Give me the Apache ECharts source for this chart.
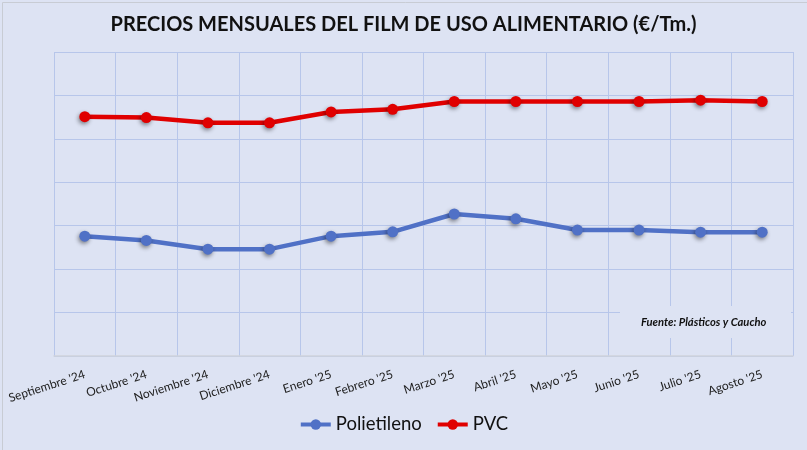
<!DOCTYPE html>
<html style="height: 100%;">
  <head>
    <meta charset="utf-8" />
  </head>
  <body style="height: 100%; margin: 0; background: #dde3f3;">
    <div id="container" style="width: 807px; height: 450px;"></div>
    <script src="https://cdnjs.cloudflare.com/ajax/libs/echarts/6.0.0/echarts.min.js"></script>
    <script type="text/javascript">
      // meses (eje x)
      var months = [
        "Septiembre '24", "Octubre '24", "Noviembre '24", "Diciembre '24",
        "Enero '25", "Febrero '25", "Marzo '25", "Abril '25",
        "Mayo '25", "Junio '25", "Julio '25", "Agosto '25"
      ];
      // precios estimados en €/Tm (eje sin etiquetas)
      var polietileno = [1380, 1330, 1230, 1230, 1380, 1430, 1635, 1580, 1450, 1450, 1425, 1425];
      var pvc = [2755, 2745, 2685, 2685, 2810, 2840, 2930, 2930, 2930, 2930, 2945, 2930];

      var dom = document.getElementById("container");
      var myChart = echarts.init(dom);

      var lineStyle = function (color) {
        return {
          type: "line",
          smooth: false,
          symbol: "circle",
          symbolSize: 11,
          itemStyle: {
            color: color,
            shadowColor: "rgba(0,0,0,0.45)",
            shadowBlur: 4,
            shadowOffsetX: -1,
            shadowOffsetY: 2
          },
          lineStyle: { color: color, width: 4.5 },
          emphasis: { disabled: true }
        };
      };

      var option = {
        backgroundColor: "#dde3f3",
        animation: false,
        textStyle: { fontFamily: "Lato" },
        title: {
          text: "PRECIOS MENSUALES DEL FILM DE USO ALIMENTARIO (€/Tm.)",
          left: "center",
          top: 10,
          textStyle: { fontFamily: "Lato", fontSize: 20, fontWeight: "bold", color: "#111" }
        },
        legend: {
          bottom: 11,
          left: "center",
          itemWidth: 30,
          itemHeight: 13,
          itemGap: 14,
          lineStyle: { width: 4 },
          textStyle: { fontFamily: "Lato", fontSize: 18.5, color: "#111" },
          data: ["Polietileno", "PVC"]
        },
        grid: { left: 54, right: 14, top: 52, bottom: 94 },
        xAxis: {
          type: "category",
          data: months,
          boundaryGap: true,
          axisLine: { show: true, lineStyle: { color: "#cfd3dc", width: 1.5 } },
          axisTick: { show: false },
          axisLabel: {
            interval: 0,
            rotate: 18,
            margin: 18,
            fontSize: 12,
            color: "#222",
            fontFamily: "Lato"
          },
          splitLine: { show: true, lineStyle: { color: "#b7c6ea", width: 1 } }
        },
        yAxis: {
          type: "value",
          min: 0,
          max: 3500,
          interval: 500,
          axisLabel: { show: false },
          axisLine: { show: false },
          axisTick: { show: false },
          splitLine: { lineStyle: { color: "#b7c6ea", width: 1 } }
        },
        graphic: [
          {
            type: "rect",
            left: 620,
            top: 306,
            shape: { width: 171, height: 32 },
            style: { fill: "#dde3f3" },
            z: 5
          },
          {
            type: "text",
            left: 641,
            top: 317,
            style: {
              text: "Fuente: Plásticos y Caucho",
              font: "italic bold 11.2px Lato",
              fill: "#111"
            },
            z: 6
          },
          {
            type: "rect",
            left: 0,
            top: 0,
            shape: { width: 806, height: 449 },
            style: { fill: "none", stroke: "#c8ccd4", lineWidth: 1 },
            z: 10
          }
        ],
        series: [
          Object.assign(lineStyle("#5071c6"), { name: "Polietileno", data: polietileno }),
          Object.assign(lineStyle("#e00000"), { name: "PVC", data: pvc })
        ]
      };

      myChart.setOption(option);
    </script>
  </body>
</html>
